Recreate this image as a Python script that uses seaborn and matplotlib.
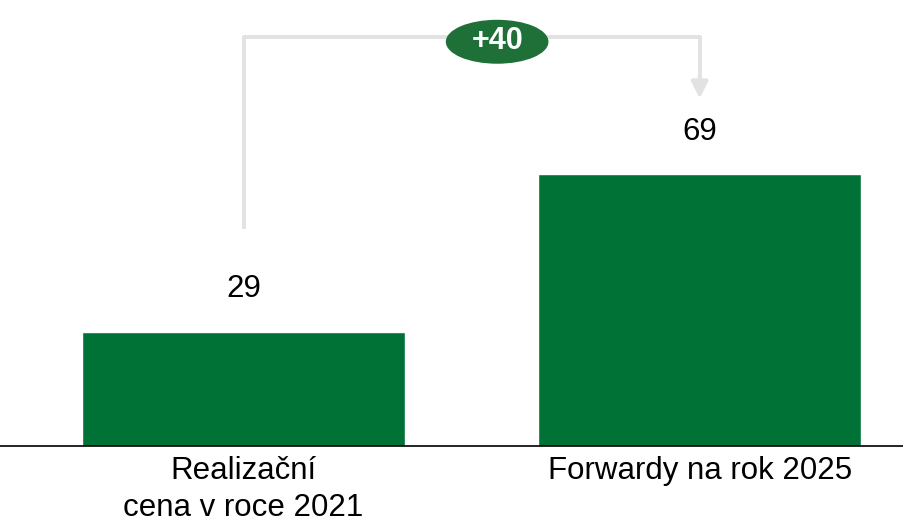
import matplotlib
matplotlib.use("Agg")
import matplotlib.pyplot as plt
from matplotlib.patches import Ellipse
import pandas as pd
import seaborn as sns

categories = ["Realizační\ncena v roce 2021", "Forwardy na rok 2025"]
values = [29, 69]
delta_label = "+40"

bar_color = "#007236"
badge_color = "#1F7038"
line_color = "#E2E2E2"

sns.set_style("white")
plt.rcParams["font.family"] = ["Liberation Sans", "DejaVu Sans"]
plt.rcParams["text.color"] = "black"
plt.rcParams["xtick.color"] = "black"

df = pd.DataFrame({"cat": categories, "val": values})

fig = plt.figure(figsize=(9.04, 5.21), dpi=100)
ax = fig.add_axes([0, 75 / 521, 1, 446 / 521])
sns.barplot(data=df, x="cat", y="val", color=bar_color, saturation=1,
            width=0.708, ax=ax)

ax.set_xlim(-0.534, 1.448)
ax.set_ylim(0, 113.2)
ax.set_xlabel("")
ax.set_ylabel("")
ax.set_yticks([])
ax.tick_params(axis="x", length=0, labelsize=22.5, pad=7, labelcolor="black")
for lbl in ax.get_xticklabels():
    lbl.set_linespacing(1.3)
for s in ["top", "left", "right"]:
    ax.spines[s].set_visible(False)
ax.spines["bottom"].set_color("black")
ax.spines["bottom"].set_linewidth(1.2)

# value labels
for i, v in enumerate(values):
    ax.text(i, v + 10.8, str(v), ha="center", va="center", fontsize=22.5)

# connector bracket
top_y = 103.8
ax.plot([0, 0, 1, 1], [values[0] + 26, top_y, top_y, values[1] + 24],
        color=line_color, lw=2.8, solid_capstyle="butt", zorder=1)
ax.annotate("", xy=(1, values[1] + 19.2), xytext=(1, values[1] + 25),
            arrowprops=dict(arrowstyle="-|>,head_length=1.0,head_width=0.5",
                            color=line_color, lw=2.8, shrinkA=0, shrinkB=0))

badge = Ellipse((0.556, 102.6), 0.222, 10.8, color=badge_color, zorder=3)
ax.add_patch(badge)
ax.text(0.556, 102.8, delta_label, ha="center", va="center", fontsize=22,
        fontweight="bold", color="white", zorder=4)

fig.savefig("out.png", dpi=100)
